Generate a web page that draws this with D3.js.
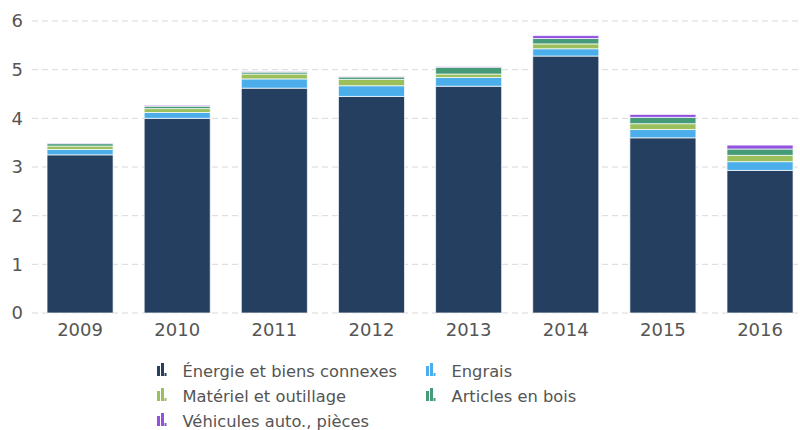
<!DOCTYPE html>
<html>
<head>
<meta charset="utf-8">
<script src="https://cdn.jsdelivr.net/npm/d3@7"></script>
<style>
  body { margin: 0; background: #fff; }
  text { font-family: "DejaVu Sans", sans-serif; fill: #555; }
  .grid line { stroke: #d9d9d9; stroke-dasharray: 6,4; }
</style>
</head>
<body>
<div id="chart"></div>
<script>
// data
var years = ["2009", "2010", "2011", "2012", "2013", "2014", "2015", "2016"];
var series = ["Énergie et biens connexes", "Engrais", "Matériel et outillage", "Articles en bois", "Véhicules auto., pièces"];
var colors = ["#243f5f", "#4baeea", "#9bbf5a", "#459a77", "#9152df"];
var energie  = [3.25, 4.00, 4.62, 4.45, 4.66, 5.28, 3.60, 2.93];
var engrais  = [0.11, 0.12, 0.19, 0.22, 0.18, 0.15, 0.17, 0.18];
var materiel = [0.07, 0.08, 0.10, 0.13, 0.07, 0.10, 0.12, 0.13];
var bois     = [0.05, 0.05, 0.04, 0.05, 0.14, 0.11, 0.13, 0.13];
var vehic    = [0.01, 0.02, 0.01, 0.01, 0.01, 0.06, 0.06, 0.08];
var yTicks = [0, 1, 2, 3, 4, 5, 6];

var width = 800, height = 430;
var margin = {top: 21, bottom: 117, left: 32, right: 2};

var rows = years.map(function(y, i) {
  return {year: y, s0: energie[i], s1: engrais[i], s2: materiel[i], s3: bois[i], s4: vehic[i]};
});
var keys = ["s0", "s1", "s2", "s3", "s4"];
var stacked = d3.stack().keys(keys)(rows);

var svg = d3.select("#chart")
  .append("svg")
  .attr("width", width)
  .attr("height", height);

var xScale = d3.scaleBand()
  .domain(years)
  .range([31.5, 808.6])
  .paddingInner(0.32)
  .paddingOuter(0.16);

var yScale = d3.scaleLinear()
  .domain([0, 6])
  .range([height - margin.bottom, margin.top]);

// grid
svg.append("g")
  .attr("class", "grid")
  .selectAll("line")
  .data(yTicks)
  .enter()
  .append("line")
  .attr("x1", margin.left)
  .attr("x2", width - margin.right)
  .attr("y1", function(d) { return yScale(d); })
  .attr("y2", function(d) { return yScale(d); });

// y labels
svg.append("g")
  .call(d3.axisLeft(yScale).tickValues(yTicks).tickSize(0).tickPadding(0).tickFormat(d3.format("d")))
  .attr("transform", "translate(" + 23 + ",0)")
  .call(function(g) { g.select(".domain").remove(); })
  .selectAll("text")
  .style("font-size", "18px")
  .attr("fill", "#555");

// x labels
svg.append("g")
  .attr("transform", "translate(0," + (height - margin.bottom) + ")")
  .call(d3.axisBottom(xScale).tickSize(0).tickPadding(10))
  .call(function(g) { g.select(".domain").remove(); })
  .selectAll("text")
  .style("font-size", "18px")
  .attr("fill", "#555");

// bars
svg.selectAll(".layer")
  .data(stacked)
  .enter()
  .append("g")
  .attr("class", "layer")
  .attr("fill", function(d, i) { return colors[i]; })
  .selectAll("rect")
  .data(function(d) { return d; })
  .enter()
  .append("rect")
  .attr("x", function(d) { return xScale(d.data.year); })
  .attr("width", xScale.bandwidth())
  .attr("y", function(d) { return yScale(d[1]); })
  .attr("height", function(d) { return yScale(d[0]) - yScale(d[1]); })
  .attr("stroke", "#fff")
  .attr("stroke-opacity", 0.7)
  .attr("stroke-width", 1);

// legend
var legendPos = [[157, 371], [426, 371], [157, 396], [426, 396], [157, 421]];
var legend = svg.selectAll(".legend")
  .data(series)
  .enter()
  .append("g")
  .attr("class", "legend")
  .attr("transform", function(d, i) { return "translate(" + legendPos[i][0] + "," + legendPos[i][1] + ")"; });

// little bar-chart glyph: [x, width, height]
var iconBars = [[0, 3, 10], [4, 3, 13], [7.5, 2, 3]];
legend.each(function(d, i) {
  var g = d3.select(this);
  iconBars.forEach(function(b) {
    g.append("rect")
      .attr("x", b[0])
      .attr("y", 5 - b[2])
      .attr("width", b[1])
      .attr("height", b[2])
      .attr("fill", colors[i]);
  });
  g.append("text")
    .attr("x", 25.5)
    .attr("y", 0)
    .attr("dy", "0.35em")
    .style("font-size", "16.3px")
    .text(d);
});
</script>
</body>
</html>
